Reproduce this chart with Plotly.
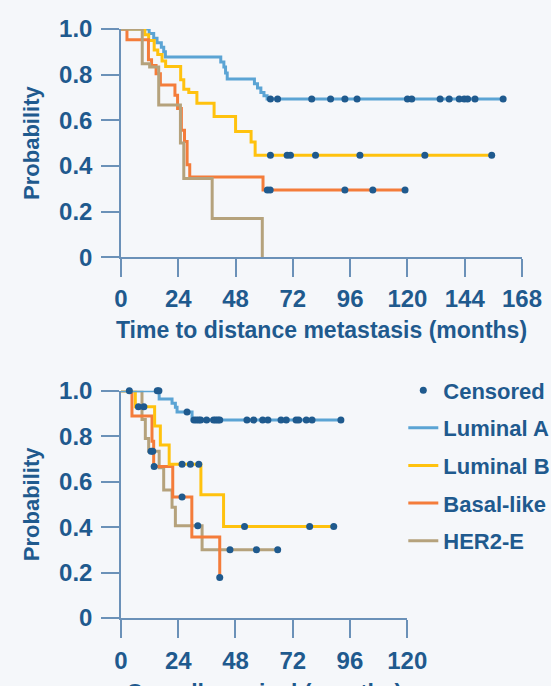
import numpy as np
import plotly.graph_objects as go

# ---------------- data: time to distant metastasis (top panel) ----------------
met_luma_times = [0, 11.8, 13.7, 15.1, 16.9, 17.9, 18.6, 41.8, 43.1, 43.8, 44.5, 55.9, 57.2, 58.6, 59.9, 61.2]
met_luma_surv = [1.0, 0.98, 0.96, 0.94, 0.92, 0.90, 0.877, 0.855, 0.833, 0.807, 0.781, 0.76, 0.741, 0.722, 0.708, 0.693]
met_luma_cens = [62.6, 65.6, 79.9, 87.8, 93.8, 98.9, 120.0, 121.8, 133.7, 137.5, 141.7, 143.8, 145.2, 148.3, 160.1]

met_lumb_times = [0, 10.0, 11.6, 13.9, 15.4, 17.2, 18.7, 25.0, 26.3, 28.4, 31.8, 39.0, 48.0, 54.5, 56.2]
met_lumb_surv = [1.0, 0.975, 0.95, 0.908, 0.888, 0.86, 0.836, 0.778, 0.736, 0.722, 0.675, 0.617, 0.551, 0.505, 0.447]
met_lumb_cens = [62.6, 69.6, 71.0, 81.5, 100.1, 127.3, 155.3]

met_basal_times = [0, 2.5, 11.5, 12.8, 14.7, 16.5, 22.6, 23.7, 25.3, 26.6, 27.7, 28.8, 59.5]
met_basal_surv = [1.0, 0.953, 0.865, 0.84, 0.804, 0.755, 0.71, 0.652, 0.556, 0.507, 0.405, 0.352, 0.295]
met_basal_cens = [61.3, 62.5, 93.8, 105.5, 119.0]

met_her2_times = [0, 8.9, 12.0, 15.8, 24.9, 26.3, 38.2, 59.2]
met_her2_surv = [1.0, 0.848, 0.833, 0.667, 0.5, 0.345, 0.17, 0.0]
met_her2_cens = []

# ---------------- data: overall survival (bottom panel) ----------------
os_luma_times = [0, 16.0, 21.4, 22.8, 23.5, 29.8]
os_luma_surv = [1.0, 0.964, 0.945, 0.927, 0.907, 0.871]
os_luma_cens = [3.5, 15.2, 15.9, 27.7, 30.6, 31.6, 32.6, 33.4, 35.9, 38.8, 39.7, 40.6, 41.4,
                52.8, 55.6, 59.4, 61.6, 67.1, 69.3, 73.4, 74.5, 77.7, 80.1, 92.2]

os_lumb_times = [0, 6.0, 14.1, 16.5, 20.2, 33.5, 43.0]
os_lumb_surv = [1.0, 0.93, 0.845, 0.761, 0.677, 0.542, 0.403]
os_lumb_cens = [7.3, 9.6, 25.6, 29.1, 32.6, 51.8, 79.1, 89.2]

os_basal_times = [0, 4.6, 13.0, 13.7, 21.7, 29.7, 41.4]
os_basal_surv = [1.0, 0.889, 0.778, 0.667, 0.533, 0.356, 0.178]
os_basal_cens = [13.9, 25.6, 41.4]

os_her2_times = [0, 8.8, 10.2, 11.6, 16.0, 17.9, 21.4, 22.8, 34.0]
os_her2_surv = [1.0, 0.874, 0.79, 0.734, 0.661, 0.563, 0.487, 0.406, 0.30]
os_her2_cens = [12.6, 13.3, 32.2, 45.7, 56.8, 65.7]

subtypes = ["Luminal A", "Luminal B", "Basal-like", "HER2-E"]
x_ticks_top = [0, 24, 48, 72, 96, 120, 144, 168]
x_ticks_bottom = [0, 24, 48, 72, 96, 120]
y_ticks = [0, 0.2, 0.4, 0.6, 0.8, 1.0]
y_ticktext = ["0", "0.2", "0.4", "0.6", "0.8", "1.0"]
x_title_top = "Time to distance metastasis (months)"
x_title_bottom = "Overall survival (months)"
y_title = "Probability"

# ---------------- style ----------------
BG = "#f5f7fa"
NAVY = "#1f5a8e"
AXC = "#6b91b8"
COLORS = {"Luminal A": "#5ba4d4", "Luminal B": "#ffc20e", "Basal-like": "#f47c3a", "HER2-E": "#b5a27c"}
FONT = "Liberation Sans, Arial, sans-serif"
W, H = 551, 686
ML, MR, MT, MB = 120.7, 29.3, 29.3, 68.3
PW, PH = W - ML - MR, H - MT - MB


def step_values(times, surv, pts):
    idx = np.searchsorted(np.asarray(times), np.asarray(pts, dtype=float), side="right") - 1
    return [surv[i] for i in idx]


fig = go.Figure()

top = {
    "Luminal A": (met_luma_times, met_luma_surv, met_luma_cens),
    "Luminal B": (met_lumb_times, met_lumb_surv, met_lumb_cens),
    "Basal-like": (met_basal_times, met_basal_surv, met_basal_cens),
    "HER2-E": (met_her2_times, met_her2_surv, met_her2_cens),
}
bottom = {
    "Luminal A": (os_luma_times, os_luma_surv, os_luma_cens),
    "Luminal B": (os_lumb_times, os_lumb_surv, os_lumb_cens),
    "Basal-like": (os_basal_times, os_basal_surv, os_basal_cens),
    "HER2-E": (os_her2_times, os_her2_surv, os_her2_cens),
}


def add_panel(data, order, xa, ya, legend):
    for name in order:
        times, surv, cens = data[name]
        xs, ys = list(times), list(surv)
        if cens and max(cens) > xs[-1]:
            xs.append(max(cens))
            ys.append(surv[-1])
        fig.add_trace(go.Scatter(
            x=xs, y=ys, mode="lines", line=dict(color=COLORS[name], width=3, shape="hv"),
            name=name, showlegend=legend, legendgroup=name,
            legendrank=subtypes.index(name) + 2,
            xaxis=xa, yaxis=ya, cliponaxis=False, hoverinfo="skip"))


def add_censors(data, xa, ya, legend):
    first = True
    for name in subtypes:
        times, surv, cens = data[name]
        if not cens:
            continue
        fig.add_trace(go.Scatter(
            x=cens, y=step_values(times, surv, cens), mode="markers",
            marker=dict(color=NAVY, size=7), name="Censored",
            showlegend=legend and first, legendgroup="Censored", legendrank=1,
            xaxis=xa, yaxis=ya, cliponaxis=False, hoverinfo="skip"))
        first = False


add_panel(top, ["Luminal A", "Luminal B", "Basal-like", "HER2-E"], "x", "y", False)
add_panel(bottom, ["HER2-E", "Basal-like", "Luminal B", "Luminal A"], "x2", "y2", True)
add_censors(top, "x", "y", False)
add_censors(bottom, "x2", "y2", True)

axis_common = dict(
    showline=True, linecolor=AXC, linewidth=1.5, ticks="outside", ticklen=18,
    tickwidth=1.5, tickcolor=AXC, showgrid=False, zeroline=False,
    tickfont=dict(family=FONT, size=24, color=NAVY, weight="bold"),
    automargin=False, fixedrange=True,
)
xtitle_font = dict(family=FONT, size=23, color=NAVY, weight="bold")
ytitle_font = dict(family=FONT, size=22, color=NAVY, weight="bold")

bottom_xdom = (406.9 - ML) / PW
top_ydom0 = (H - MB - 257.3) / PH
bottom_ydom1 = (H - MB - 390.7) / PH

fig.update_layout(
    width=W, height=H, autosize=False,
    margin=dict(l=ML, r=MR, t=MT, b=MB, pad=0, autoexpand=False),
    paper_bgcolor=BG, plot_bgcolor=BG,
    font=dict(family=FONT, color=NAVY),
    xaxis=dict(axis_common, domain=[0, 1], range=[0, 168], tickvals=x_ticks_top,
               anchor="y", ticklabelstandoff=1,
               title=dict(text=x_title_top, font=xtitle_font, standoff=11)),
    yaxis=dict(axis_common, domain=[top_ydom0, 1], range=[0, 1], tickvals=y_ticks,
               ticktext=y_ticktext, anchor="x", ticklabelstandoff=4,
               title=dict(text=y_title, font=ytitle_font, standoff=13)),
    xaxis2=dict(axis_common, domain=[0, bottom_xdom], range=[0, 120], tickvals=x_ticks_bottom,
                anchor="y2", ticklabelstandoff=2),
    yaxis2=dict(axis_common, domain=[0, bottom_ydom1], range=[0, 1], tickvals=y_ticks,
                ticktext=y_ticktext, anchor="x2", ticklabelstandoff=4,
                title=dict(text=y_title, font=ytitle_font, standoff=13)),
    legend=dict(
        x=(403 - ML) / PW, y=(H - MB - 369.4) / PH, xanchor="left", yanchor="top",
        bgcolor="rgba(0,0,0,0)", borderwidth=0, traceorder="grouped", tracegroupgap=6,
        font=dict(family=FONT, size=22, color=NAVY, weight="bold"),
    ),
    annotations=[dict(
        text=x_title_bottom, xref="paper", yref="paper",
        x=bottom_xdom / 2, y=(H - MB - 693) / PH, xanchor="center", yanchor="middle",
        showarrow=False, font=xtitle_font,
    )],
    showlegend=True,
)

fig.write_html(
    "out.html",
    config={"responsive": False, "displayModeBar": False},
    post_script="document.body.style.margin='0';document.body.style.overflow='hidden';",
)
